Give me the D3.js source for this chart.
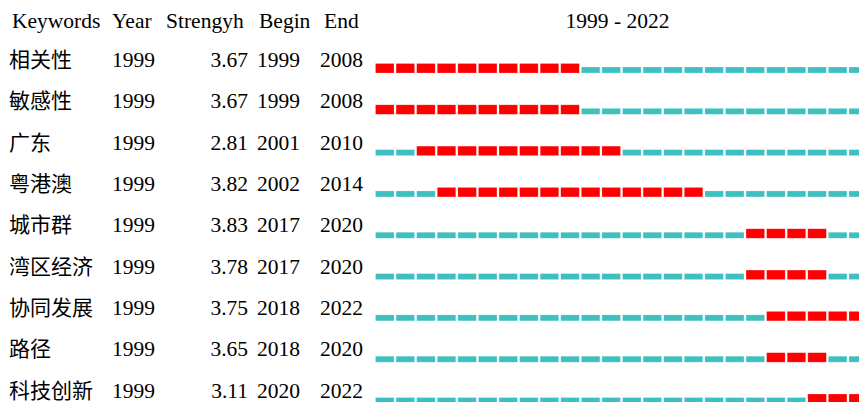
<!DOCTYPE html>
<html>
<head>
<meta charset="utf-8">
<script src="https://cdn.jsdelivr.net/npm/d3@7"></script>
<style>
  body { margin: 0; background: #fff; }
  text { font-family: "Liberation Serif", "Noto Sans CJK SC", serif; font-size: 21.5px; fill: #000; }
  .cjk { font-family: "Noto Sans CJK SC", sans-serif; font-size: 21px; }
</style>
</head>
<body>
<div id="chart"></div>
<script>
const keywords = ["相关性", "敏感性", "广东", "粤港澳", "城市群", "湾区经济", "协同发展", "路径", "科技创新"];
const years = ["1999", "1999", "1999", "1999", "1999", "1999", "1999", "1999", "1999"];
const strength = [3.67, 3.67, 2.81, 3.82, 3.83, 3.78, 3.75, 3.65, 3.11];
const begin = [1999, 1999, 2001, 2002, 2017, 2017, 2018, 2018, 2020];
const end = [2008, 2008, 2010, 2014, 2020, 2020, 2022, 2020, 2022];
const headers = ["Keywords", "Year", "Strengyh", "Begin", "End"];
const firstYear = 1999, lastYear = 2022;

const width = 859, height = 402;

const svg = d3.select("#chart").append("svg")
  .attr("width", width)
  .attr("height", height);

const allYears = d3.range(firstYear, lastYear + 1);

const x = d3.scaleBand()
  .domain(allYears)
  .range([375.5, 375.5 + 20.5 * allYears.length])
  .paddingInner(0.1)
  .paddingOuter(0);

// baseline of each row
const y = d3.scalePoint()
  .domain(keywords)
  .range([67, 397.5]);

// header
const headerX = [12, 112, 166, 259, 324];
svg.selectAll(".hdr")
  .data(headers)
  .enter()
  .append("text")
  .attr("class", "hdr")
  .attr("x", (d, i) => headerX[i])
  .attr("y", 28)
  .text(d => d);

svg.append("text")
  .attr("x", (x(firstYear) + x(lastYear) + x.bandwidth()) / 2 - 4)
  .attr("y", 28)
  .attr("text-anchor", "middle")
  .text(firstYear + " - " + lastYear);

const rows = svg.selectAll(".row")
  .data(keywords)
  .enter()
  .append("g")
  .attr("class", "row")
  .attr("transform", d => `translate(0,${y(d)})`);

rows.append("text")
  .attr("class", "cjk")
  .attr("x", 9)
  .attr("y", 0)
  .text(d => d);

rows.append("text")
  .attr("x", 112)
  .text((d, i) => years[i]);

rows.append("text")
  .attr("x", 248)
  .attr("text-anchor", "end")
  .text((d, i) => strength[i].toFixed(2));

rows.append("text")
  .attr("x", 257)
  .text((d, i) => begin[i]);

rows.append("text")
  .attr("x", 320)
  .text((d, i) => end[i]);

rows.each(function (d, i) {
  const g = d3.select(this);
  g.selectAll("rect")
    .data(allYears)
    .enter()
    .append("rect")
    .attr("x", yr => x(yr))
    .attr("width", x.bandwidth())
    .attr("y", yr => (yr >= begin[i] && yr <= end[i]) ? -3.5 : 0)
    .attr("height", yr => (yr >= begin[i] && yr <= end[i]) ? 9.5 : 6)
    .attr("fill", yr => (yr >= begin[i] && yr <= end[i]) ? "#ff0000" : "#3fc0c0")
    .attr("stroke", "#ffffff")
    .attr("stroke-opacity", 0.35)
    .attr("stroke-width", 0.6);
});
</script>
</body>
</html>
